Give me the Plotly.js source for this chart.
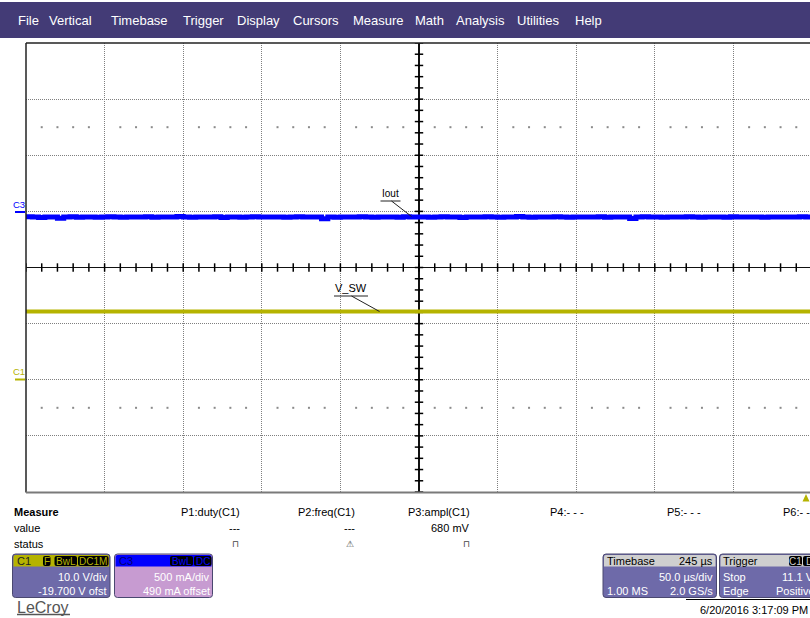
<!DOCTYPE html>
<html>
<head>
<meta charset="utf-8">
<script src="https://cdn.plot.ly/plotly-3.0.1.min.js"></script>
<style>html,body{margin:0;padding:0;overflow:hidden;background:#fff;}#chart{width:810px;height:618px;}</style>
</head>
<body>
<div id="chart"></div>
<script>
// ---------------- DATA ----------------
// Channel settings
const C1_VDIV = 10.0;      // V/div
const C1_OFST = -19.7;     // V offset
const C3_ADIV = 500;       // mA/div
const C3_OFST = 490;       // mA offset
const T_DIV = 50;          // us/div
const SAMPLE_STEP_US = 4;  // display sample spacing (us)

// C3 : Iout (mA), one value per display sample
const iout_mA = [
 -38,-41,-44,-39,-40,-52,-41,-38,-42,-40,-39,-43,-41,-37,-40,-42,-39,-41,-40,-38,
 -43,-40,-39,-41,-36,-40,-42,-39,-40,-41,-38,-44,-40,-39,-42,-40,-37,-41,-40,-39,
 -41,-43,-40,-38,-40,-41,-39,-55,-40,-42,-39,-41,-40,-38,-40,-43,-41,-39,-40,-42,
 -38,-40,-41,-39,-42,-40,-37,-41,-40,-44,-39,-40,-41,-38,-40,-42,-39,-41,-36,-40,
 -42,-39,-40,-41,-38,-40,-43,-40,-39,-41,-40,-38,-42,-40,-41,-39,-54,-40,-38,-41,
 -40,-42,-39,-40,-41,-38,-40,-43,-39,-41,-40,-42,-38,-40,-41,-39,-40,-42,-40,-41,
 -39,-40,-41,-38,-40,-42
];
// C1 : V_SW (V), one value per display sample
const vsw_V = [
 11.86,11.87,11.85,11.86,11.88,11.86,11.85,11.87,11.86,11.86,11.84,11.86,11.87,11.86,11.85,11.86,11.88,11.86,11.86,11.85,
 11.87,11.86,11.86,11.85,11.86,11.87,11.86,11.84,11.86,11.86,11.87,11.85,11.86,11.86,11.88,11.86,11.85,11.86,11.87,11.86,
 11.85,11.86,11.87,11.86,11.86,11.85,11.88,11.86,11.86,11.87,11.85,11.86,11.86,11.84,11.86,11.87,11.86,11.85,11.86,11.86,
 11.87,11.86,11.85,11.86,11.86,11.88,11.86,11.85,11.86,11.87,11.86,11.86,11.85,11.86,11.87,11.86,11.84,11.86,11.86,11.87,
 11.86,11.85,11.86,11.87,11.86,11.86,11.85,11.86,11.88,11.86,11.86,11.85,11.87,11.86,11.86,11.85,11.86,11.87,11.86,11.86,
 11.85,11.86,11.87,11.86,11.84,11.86,11.86,11.87,11.85,11.86,11.86,11.88,11.86,11.85,11.86,11.87,11.86,11.86,11.85,11.86,
 11.87,11.86,11.85,11.86,11.86,11.87
];
const menuItems = ["File","Vertical","Timebase","Trigger","Display","Cursors","Measure","Math","Analysis","Utilities","Help"];
const paramLabels = ["P1:duty(C1)","P2:freq(C1)","P3:ampl(C1)","P4:- - -","P5:- - -","P6:- - -"];
const paramValues = ["---","---","680 mV","","",""];
const paramStatus = ["⊓","⚠","⊓","","",""];

// ---------------- LAYOUT HELPERS ----------------
const W = 810, H = 618, L = 26, R = 0, T = 43, B = 126;
const PW = W - L - R, PH = H - T - B;
const PX = x => (x - L) / PW;
const PY = y => (H - B - y) / PH;
const FONT = 'Liberation Sans, Arial, sans-serif';
const DIV_PX = 78.6;
const xRight = -5 * T_DIV + (W - R - L) / DIV_PX * T_DIV;

const times = iout_mA.map((_, k) => -250 + k * SAMPLE_STEP_US);
const c3div = iout_mA.map(I => (I + C3_OFST) / C3_ADIV);
const c1div = vsw_V.map(V => (V + C1_OFST) / C1_VDIV);

// graticule ticks and dots
const hTickX = [], hTickY = [], vTickX = [], vTickY = [], dotX = [], dotY = [];
for (let k = -25; k <= 25; k++) { hTickX.push(k * 10); hTickY.push(0); }
for (let k = -20; k <= 20; k++) { vTickX.push(0); vTickY.push(k * 0.2); }
for (let k = -25; k <= 25; k++) { if (k % 5 !== 0) { dotX.push(k * 10, k * 10); dotY.push(2.5, -2.5); } }

const OLIVE = '#b5b300', BLUE = '#0000ff', SLATE = '#6e6aa9', PLUM = '#c79bd1', GREYH = '#cfcfcf', BORDER = '#4a4870';

function rr(x0, y0, x1, y1, rt, rb) {
  const P = (x, y) => PX(x) + ',' + PY(y);
  return `M${P(x0 + rt, y0)} L${P(x1 - rt, y0)} Q${P(x1, y0)} ${P(x1, y0 + rt)} L${P(x1, y1 - rb)} Q${P(x1, y1)} ${P(x1 - rb, y1)} L${P(x0 + rb, y1)} Q${P(x0, y1)} ${P(x0, y1 - rb)} L${P(x0, y0 + rt)} Q${P(x0, y0)} ${P(x0 + rt, y0)} Z`;
}
const shapes = [];
const ann = [];
function rectPx(x0, y0, x1, y1, fill, line, lw) {
  shapes.push({type: 'rect', xref: 'paper', yref: 'paper', x0: PX(x0), x1: PX(x1), y0: PY(y1), y1: PY(y0),
    fillcolor: fill, line: {width: lw || 0, color: line || fill}, layer: 'above'});
}
function pathPx(path, fill, line, lw) {
  shapes.push({type: 'path', xref: 'paper', yref: 'paper', path: path, fillcolor: fill,
    line: {width: lw || 0, color: line || fill}, layer: 'above'});
}
function linePx(x0, y0, x1, y1, color, w) {
  shapes.push({type: 'line', xref: 'paper', yref: 'paper', x0: PX(x0), x1: PX(x1), y0: PY(y0), y1: PY(y1),
    line: {color: color, width: w}, layer: 'above'});
}
function txt(s, x, y, o) {
  o = o || {};
  ann.push({text: s, xref: 'paper', yref: 'paper', x: PX(x), y: PY(y), xanchor: o.a || 'left', yanchor: 'middle',
    showarrow: false, borderpad: 0, font: {family: FONT, size: o.size || 11, color: o.color || '#000', weight: o.bold ? 'bold' : 'normal'}});
}

// menu bar
rectPx(0, 2, 812, 38, '#433b76');
const menuX = [17, 48, 110, 182, 236, 292, 352, 414, 455, 516, 574];
menuItems.forEach((m, i) => txt(m, menuX[i], 21, {color: '#ffffff', size: 13}));

// plot borders
linePx(26, 43, 812, 43, '#222', 1.5);
linePx(26, 43, 26, 492.5, '#222', 1.5);
linePx(26, 492.5, 812, 492.5, '#7a7a7a', 2);

// channel ground markers
txt('C3', 12, 204.5, {size: 9.5, color: BLUE});
linePx(15, 212, 25, 212, BLUE, 2);
txt('C1', 12, 371, {size: 9.5, color: OLIVE});
linePx(15, 379.5, 25, 379.5, OLIVE, 2);

// trigger marker
pathPx(`M${PX(802.5)},${PY(501.5)} L${PX(806)},${PY(494)} L${PX(809.5)},${PY(501.5)} Z`, OLIVE);

// measure table
txt('<b>Measure</b>', 13, 512, {});
txt('value', 13, 528, {});
txt('status', 13, 544, {});
const colRight = [240.5, 355.5, 471, 585, 702, 818];
paramLabels.forEach((p, i) => {
  txt(p, colRight[i], 512, {a: 'right'});
  if (paramValues[i]) txt(paramValues[i], colRight[i], 528, {a: 'right'});
  if (paramStatus[i]) txt(paramStatus[i], colRight[i] - 0.5, 544, {a: 'right', size: 9, color: '#444'});
});

// channel descriptor boxes
function chanBox(x0, x1, head, body, headText, headTextColor, badges, badgeTextColor, lines) {
  pathPx(rr(x0, 554, x1, 597.5, 3, 3), body, BORDER, 1);
  pathPx(rr(x0 + 1, 555, x1 - 1, 566.5, 2, 0), head);
  txt(headText, x0 + 3, 560.5, {color: headTextColor});
  badges.forEach(b => {
    pathPx(rr(b[1], 556, b[2], 566, 2, 2), '#000');
    txt(b[0], (b[1] + b[2]) / 2, 561, {a: 'center', size: 10, color: badgeTextColor});
  });
  lines.forEach(l => txt(l[0], l[1], l[2], {a: l[3], color: '#fff'}));
}
chanBox(12.5, 110, OLIVE, SLATE, 'C1', '#222', [['F', 43, 50.5], ['BwL', 54.5, 77], ['DC1M', 78, 108.5]], OLIVE,
  [['10.0 V/div', 108, 577, 'right'], ['-19.700 V ofst', 108, 590.5, 'right']]);
chanBox(114.5, 212.5, BLUE, PLUM, 'C3', '#00006e', [['BwL', 170, 193], ['DC', 194, 211.5]], BLUE,
  [['500 mA/div', 211, 577, 'right'], ['490 mA offset', 211, 590.5, 'right']]);

// timebase box
pathPx(rr(603, 554, 716.5, 597.5, 3, 3), SLATE, BORDER, 1);
pathPx(rr(604, 555, 715.5, 566.5, 2, 0), GREYH);
txt('Timebase', 605.5, 560.5, {});
txt('245 µs', 714, 560.5, {a: 'right'});
txt('50.0 µs/div', 714, 577, {a: 'right', color: '#fff'});
txt('1.00 MS', 605.5, 590.5, {color: '#fff'});
txt('2.0 GS/s', 714, 590.5, {a: 'right', color: '#fff'});

// trigger box
pathPx(rr(719.5, 554, 830, 597.5, 3, 3), SLATE, BORDER, 1);
pathPx(rr(720.5, 555, 829, 566.5, 2, 0), GREYH);
txt('Trigger', 722, 560.5, {});
pathPx(rr(789, 556, 802, 566, 2, 2), '#000');
txt('C1', 795.5, 561, {a: 'center', size: 10, color: GREYH});
pathPx(rr(803, 556, 822, 566, 2, 2), '#000');
txt('DC', 812.5, 561, {a: 'center', size: 10, color: GREYH});
txt('Stop', 722, 577, {color: '#fff'});
txt('11.1 V', 815, 577, {a: 'right', color: '#fff'});
txt('Edge', 722, 590.5, {color: '#fff'});
txt('Positive', 816, 590.5, {a: 'right', color: '#fff'});

// date / logo
linePx(686, 599.5, 812, 599.5, '#000', 1);
txt('6/20/2016 3:17:09 PM', 808.5, 610, {a: 'right'});
txt('LeCroy', 16, 607, {size: 16, color: '#555'});
linePx(17, 614.5, 70, 614.5, '#555', 1.5);

// trace labels with leaders (data coords: x in us, y in div)
const pxToUs = px => (px - (L + 5 * DIV_PX)) / DIV_PX * T_DIV;
const pyToDiv = py => ((T + PH / 2) - py) / (PH / 8);
function dataLine(x0, y0, x1, y1) {
  shapes.push({type: 'line', xref: 'x', yref: 'y', x0: pxToUs(x0), x1: pxToUs(x1), y0: pyToDiv(y0), y1: pyToDiv(y1),
    line: {color: '#222', width: 1}, layer: 'above'});
}
dataLine(380.5, 201, 400.5, 201);
dataLine(391.5, 201, 411.5, 216.5);
ann.push({text: 'Iout', xref: 'x', yref: 'y', x: pxToUs(381), y: pyToDiv(200), xanchor: 'left', yanchor: 'bottom',
  showarrow: false, borderpad: 0, font: {family: FONT, size: 10, color: '#000'}});
dataLine(334, 296, 368, 296);
dataLine(351.5, 296, 379.5, 311.5);
ann.push({text: 'V_SW', xref: 'x', yref: 'y', x: pxToUs(334), y: pyToDiv(295), xanchor: 'left', yanchor: 'bottom',
  showarrow: false, borderpad: 0, font: {family: FONT, size: 11, color: '#000'}});

const traces = [
  {x: dotX, y: dotY, mode: 'markers', type: 'scatter', marker: {symbol: 'square', size: 2, color: '#8a8a8a'}, hoverinfo: 'skip'},
  {x: hTickX, y: hTickY, mode: 'markers', type: 'scatter', marker: {symbol: 'line-ns', size: 6, color: '#000', line: {width: 1.5, color: '#000'}}, hoverinfo: 'skip'},
  {x: vTickX, y: vTickY, mode: 'markers', type: 'scatter', marker: {symbol: 'line-ew', size: 6, color: '#000', line: {width: 1.5, color: '#000'}}, hoverinfo: 'skip'},
  {x: times, y: c3div, mode: 'lines', type: 'scatter', name: 'C3 Iout', line: {color: BLUE, width: 5, shape: 'hv'}},
  {x: times, y: c1div, mode: 'lines', type: 'scatter', name: 'C1 V_SW', line: {color: OLIVE, width: 4}}
];

const axisCommon = {showticklabels: false, ticks: '', showline: false, showgrid: true, gridcolor: '#7f7f7f', gridwidth: 1,
  griddash: '1px,1px', zeroline: true, zerolinecolor: '#111', zerolinewidth: 1.5, fixedrange: true};
const layout = {
  width: W, height: H, margin: {l: L, r: R, t: T, b: B, pad: 0},
  paper_bgcolor: '#ffffff', plot_bgcolor: '#ffffff', showlegend: false, hovermode: false,
  xaxis: Object.assign({}, axisCommon, {range: [-250, xRight], tick0: -250, dtick: T_DIV}),
  yaxis: Object.assign({}, axisCommon, {range: [-4, 4], tick0: -4, dtick: 1}),
  shapes: shapes, annotations: ann
};
Plotly.newPlot('chart', traces, layout, {staticPlot: true, displayModeBar: false});
</script>
</body>
</html>
